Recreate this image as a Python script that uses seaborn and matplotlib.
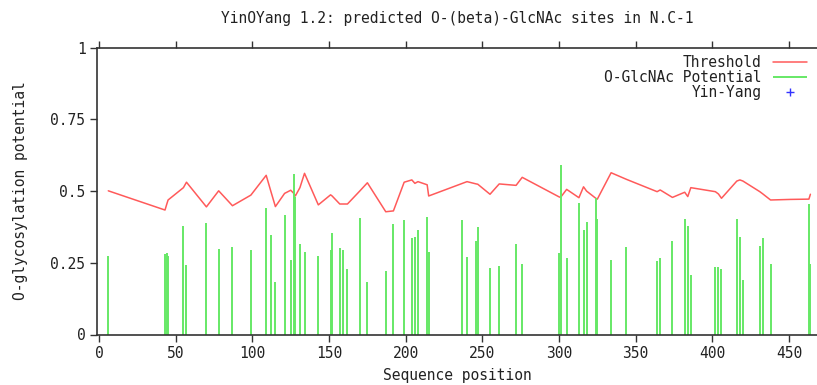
import matplotlib
matplotlib.use('Agg')
import matplotlib.pyplot as plt
import numpy as np
import seaborn as sns

# S/T sites with predicted O-GlcNAc potential and the local threshold
sites = [6, 43, 44, 45, 55, 57, 70, 78, 87, 99, 109, 112, 115, 121, 125, 127, 128,
         131, 134, 143, 151, 152, 157, 159, 162, 170, 175, 187, 192, 199, 204, 206,
         208, 214, 215, 237, 240, 246, 247, 255, 261, 272, 276, 300, 301, 305, 313,
         316, 318, 324, 325, 334, 344, 364, 366, 374, 382, 384, 386, 402, 404, 406,
         416, 418, 420, 431, 433, 438, 451, 463, 464]
potential = [0.273, 0.279, 0.283, 0.274, 0.378, 0.241, 0.388, 0.298, 0.306, 0.295,
             0.440, 0.346, 0.184, 0.417, 0.260, 0.560, 0.481, 0.317, 0.289, 0.274,
             0.295, 0.355, 0.303, 0.295, 0.227, 0.406, 0.184, 0.223, 0.384, 0.398,
             0.335, 0.341, 0.364, 0.411, 0.289, 0.398, 0.269, 0.326, 0.374, 0.232,
             0.240, 0.317, 0.246, 0.283, 0.592, 0.266, 0.460, 0.364, 0.393, 0.475,
             0.402, 0.261, 0.306, 0.256, 0.266, 0.327, 0.403, 0.378, 0.207, 0.236,
             0.234, 0.228, 0.403, 0.340, 0.189, 0.307, 0.335, 0.246, 0.0, 0.455, 0.246]
threshold = [0.501, 0.434, 0.452, 0.469, 0.512, 0.531, 0.445, 0.501, 0.449, 0.486,
             0.555, 0.500, 0.446, 0.492, 0.503, 0.492, 0.483, 0.512, 0.562, 0.452,
             0.487, 0.483, 0.455, 0.455, 0.455, 0.500, 0.529, 0.428, 0.431, 0.531,
             0.539, 0.527, 0.533, 0.522, 0.483, 0.527, 0.533, 0.525, 0.524, 0.489,
             0.525, 0.520, 0.548, 0.480, 0.478, 0.506, 0.477, 0.515, 0.500, 0.475,
             0.472, 0.564, 0.541, 0.498, 0.504, 0.478, 0.496, 0.481, 0.512, 0.498,
             0.490, 0.475, 0.535, 0.539, 0.535, 0.498, 0.490, 0.469, 0.471, 0.472, 0.489]

x_ticks = [0, 50, 100, 150, 200, 250, 300, 350, 400, 450]
y_ticks = [0, 0.25, 0.5, 0.75, 1]
y_tick_labels = ['0', '0.25', '0.5', '0.75', '1']

sns.set_style('white')
plt.rcParams['font.family'] = ['DejaVu Sans Mono']

fig = plt.figure(figsize=(8.17, 3.85), dpi=100)
ax = fig.add_axes([97.3 / 817, 50.5 / 385, (817 - 97.3) / 817, 286.8 / 385])

sns.lineplot(x=sites, y=threshold, ax=ax, color='#ff5a5a', linewidth=1.1,
             label='Threshold')
ax.vlines(sites, 0, potential, color='#66e866', linewidth=1.4,
          label='O-GlcNAc Potential')
ax.plot([], [], '+', color='#3333ff', markersize=6, label='Yin-Yang')

ax.set_xlim(-1.17, 468.3)
ax.set_ylim(0, 1)
ax.set_xticks(x_ticks)
ax.set_yticks(y_ticks)
ax.set_yticklabels(y_tick_labels)
ax.tick_params(direction='out', length=5, width=1, color='#333333',
               labelsize=10.5, labelcolor='#222222', top=True, bottom=True,
               left=True, labeltop=False)

for side in ['left', 'bottom', 'top']:
    ax.spines[side].set_color('#333333')
    ax.spines[side].set_linewidth(1.2)
ax.spines['right'].set_visible(False)

ax.set_title('YinOYang 1.2: predicted O-(beta)-GlcNAc sites in N.C-1',
             fontsize=10.5, pad=18, color='#222222')
ax.set_xlabel('Sequence position', fontsize=10.5, labelpad=5, color='#222222')
ax.set_ylabel('O-glycosylation potential', fontsize=10.5, labelpad=16,
              color='#222222')

ax.legend(loc='upper right', bbox_to_anchor=(1.0, 1.01), frameon=False,
          markerfirst=False, fontsize=10.5, handlelength=2.3, labelspacing=0.0,
          borderpad=0.2, handletextpad=0.8, labelcolor='#222222')

fig.savefig('out.png', dpi=100)
